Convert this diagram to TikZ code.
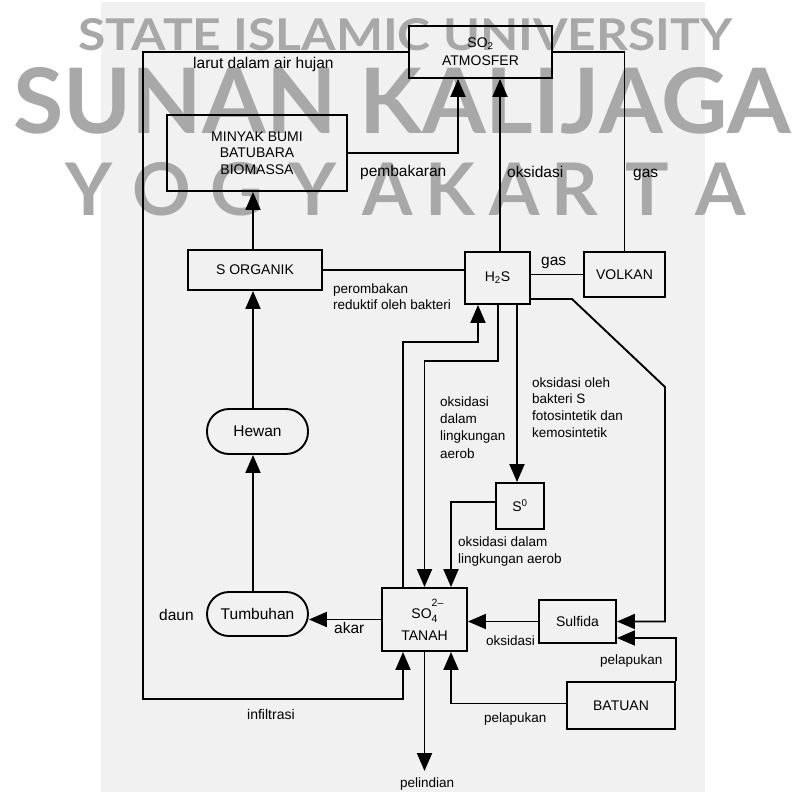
\documentclass[tikz,border=0pt]{standalone}
\usepackage{fontspec}
\usepackage{graphicx}
\setmainfont{Liberation Sans}
\newfontfamily\wmfont{Lato}
\usetikzlibrary{arrows.meta}
\definecolor{panel}{RGB}{241,241,241}
\definecolor{wmgray}{RGB}{168,168,168}

\begin{document}
\begin{tikzpicture}[x=1pt,y=-1pt,
  box/.style={draw,line width=1.9pt,inner sep=0pt,align=center,
    font=\fontsize{14}{18}\selectfont},
  pill/.style={box,rounded corners=22pt,font=\fontsize{15.5}{18}\selectfont},
  link/.style={line width=1.9pt},
  arr/.style={link,-{Triangle[length=18pt,width=15pt]}},
  lbl/.style={inner sep=0pt,align=left,font=\fontsize{13.5}{17}\selectfont},
  lblbig/.style={lbl,font=\fontsize{15.5}{17}\selectfont},
  wm/.style={inner sep=0pt,text=wmgray,font=\wmfont\bfseries}]

\useasboundingbox (0,0) rectangle (792,792);
\fill[white] (0,0) rectangle (792,792);
\fill[panel] (101,2) rectangle (705,792);

% watermark lettering behind the diagram
\node[wm,anchor=base west] (wmline1) at (78,50)
  {\resizebox{654pt}{32pt}{STATE ISLAMIC UNIVERSITY}};
\node[wm,anchor=base west] (wmline2) at (13,133)
  {\resizebox{777pt}{66pt}{SUNAN KALIJAGA}};
\foreach \ch/\cx [count=\i] in {Y/89,O/162,G/237,Y/313,A/388,K/450,A/515,R/575,T/647,A/721}
  \node[wm,anchor=base,font=\wmfont\bfseries\fontsize{72.6}{80}\selectfont] (wmy\i) at (\cx,215) {\ch};

% compartments
\node[box,minimum width=143pt,minimum height=52pt] (so2) at (480.5,52)
  {SO\textsubscript{2}\\ATMOSFER};
\node[box,minimum width=180pt,minimum height=76pt,font=\fontsize{14}{16.5}\selectfont]
  (minyak) at (257,153) {MINYAK BUMI\\BATUBARA\\BIOMASSA};
\node[box,minimum width=134pt,minimum height=40pt] (sorg) at (255,270) {S ORGANIK};
\node[box,minimum width=65pt,minimum height=52pt] (h2s) at (497.5,278) {H\textsubscript{2}S};
\node[box,minimum width=81pt,minimum height=45pt] (volkan) at (624.5,274.5) {VOLKAN};
\node[pill,minimum width=101pt,minimum height=45pt] (hewan) at (257.5,431.5) {Hewan};
\node[pill,minimum width=101pt,minimum height=44pt] (tumbuhan) at (257.5,614) {Tumbuhan};
\node[box,minimum width=48pt,minimum height=46pt] (s0) at (520,506) {S\textsuperscript{0}};
\node[box,minimum width=85pt,minimum height=63pt,font=\fontsize{14}{22}\selectfont]
  (so4) at (424.5,619.5)
  {SO\makebox[0pt][l]{\raisebox{0.85em}{\fontsize{10.5}{10.5}\selectfont 2–}}\raisebox{-0.3em}{\fontsize{10.5}{10.5}\selectfont 4}\\TANAH};
\node[box,minimum width=77pt,minimum height=43pt] (sulfida) at (577.5,621.5) {Sulfida};
\node[box,minimum width=108pt,minimum height=47pt] (batuan) at (621,705.5) {BATUAN};

% routing points
\coordinate (lb) at (143,699);
\coordinate (r1) at (478,342);
\coordinate (r2) at (498,361);
\coordinate (d1) at (572,299);
\coordinate (d2) at (665,387);
\coordinate (pl) at (424.5,771);

% flows
\draw[arr] ([xshift=-2pt]sorg.north) -- ([xshift=-4pt]minyak.south);
\draw[arr] ([xshift=-4.5pt]hewan.north) -- ([xshift=-2pt]sorg.south);
\draw[arr] ([xshift=-4.5pt]tumbuhan.north) -- ([xshift=-4.5pt]hewan.south);
\draw[arr] (so4.west) -- (so4.west -| tumbuhan.east);
\draw[arr] (minyak.east) -| ([xshift=-22.5pt]so2.south);
\draw[arr] ([xshift=2.5pt]h2s.north) -- ([xshift=19.5pt]so2.south);
\draw[link] (volkan.north) |- (so2.east);
\draw[arr] (so2.west) -| (lb) -| ([xshift=-21.5pt]so4.south);
\draw[link] (volkan.west) -- (volkan.west -| h2s.east);
\draw[link] (sorg.east) -- (sorg.east -| h2s.west);
\draw[arr] ([xshift=-21.5pt]so4.north) |- (r1) -- (r1 |- h2s.south);
\draw[arr] (r2 |- h2s.south) -- (r2) -| (so4.north);
\draw[arr] ([xshift=19.5pt]h2s.south) -- ([xshift=-3pt]s0.north);
\draw[arr] ([yshift=4pt]s0.west) -| ([xshift=26.5pt]so4.north);
\draw[arr] (h2s.east |- d1) -- (d1) -- (d2) |- (sulfida.east);
\draw[arr] (batuan.north east) |- ([yshift=-16.5pt]sulfida.east);
\draw[arr] (sulfida.west) -- (sulfida.west -| so4.east);
\draw[arr] ([yshift=2pt]batuan.west) -| ([xshift=26.5pt]so4.south);
\draw[arr] (so4.south) -- (pl);

% flow labels
\node[lblbig,anchor=base west] (tRain) at (193,68) {larut dalam air hujan};
\node[lblbig,anchor=base west] (tBurn) at (360,176) {pembakaran};
\node[lblbig,anchor=base west] (tOxUp) at (507,177) {oksidasi};
\node[lblbig,anchor=base west] (tGasUp) at (633,177) {gas};
\node[lblbig,anchor=base west] (tGasMid) at (541,265) {gas};
\node[lbl,anchor=north west,font=\fontsize{13.5}{16}\selectfont] (tDecomp) at (333,283.2)
  {perombakan\\reduktif oleh bakteri};
\node[lbl,anchor=north west,font=\fontsize{13.5}{17.3}\selectfont] (tAerob1) at (440,396.2)
  {oksidasi\\dalam\\lingkungan\\aerob};
\node[lbl,anchor=north west,font=\fontsize{13.5}{16.8}\selectfont] (tBact) at (532,377.2)
  {oksidasi oleh\\bakteri S\\fotosintetik dan\\kemosintetik};
\node[lbl,anchor=north west,font=\fontsize{13.5}{16.5}\selectfont] (tAerob2) at (458,537)
  {oksidasi dalam\\lingkungan aerob};
\node[lbl,anchor=base west] (tOxLow) at (486,645) {oksidasi};
\node[lbl,anchor=base west] (tWeathA) at (600,664) {pelapukan};
\node[lbl,anchor=base west] (tWeathB) at (484,722) {pelapukan};
\node[lbl,anchor=base west] (tLeach) at (400,787) {pelindian};
\node[lbl,anchor=base west,font=\fontsize{14}{17}\selectfont] (tInfil) at (247,719) {infiltrasi};
\node[lblbig,anchor=base west] (tRoot) at (334,633) {akar};
\node[lblbig,anchor=base west] (tLeaf) at (159,620) {daun};
\end{tikzpicture}
\end{document}
